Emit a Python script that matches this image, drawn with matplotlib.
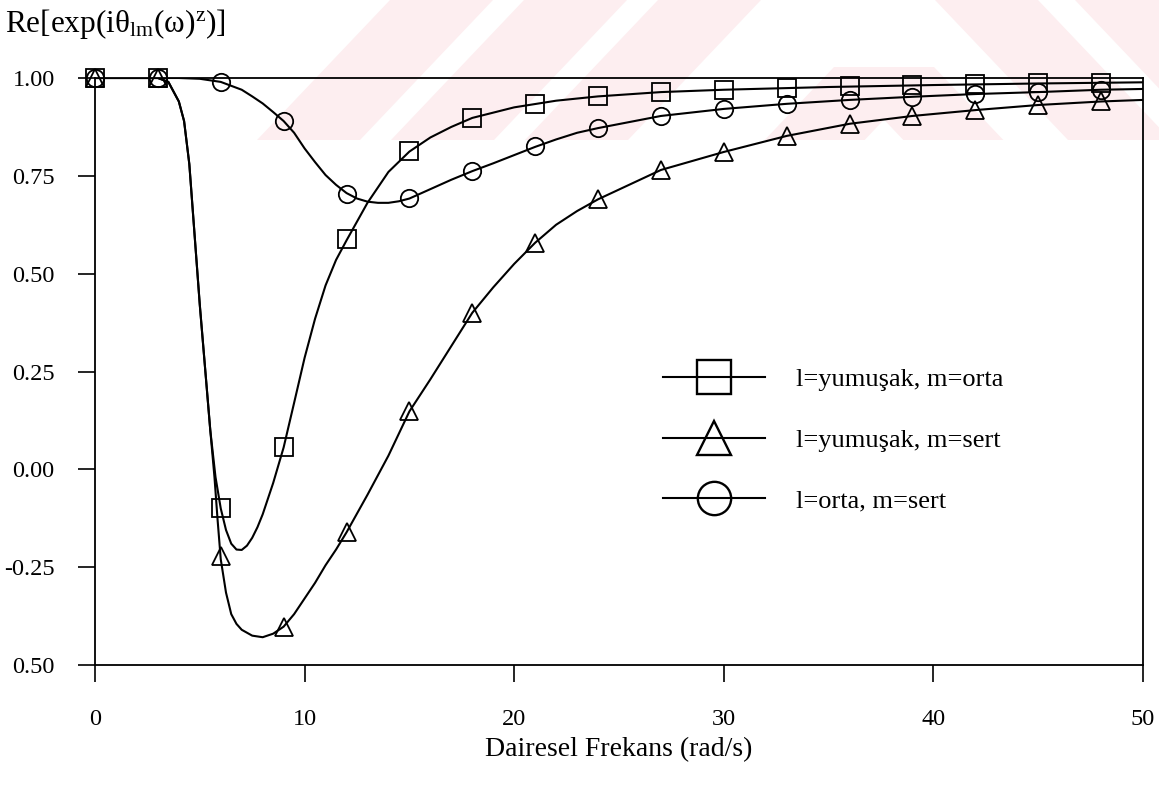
import matplotlib
matplotlib.use("Agg")
import matplotlib.pyplot as plt
from matplotlib.patches import Polygon
from matplotlib.ticker import FixedLocator, FixedFormatter

# --- marker data (every 3 rad/s) -------------------------------------------
freq_markers = [0, 3, 6, 9, 12, 15, 18, 21, 24, 27, 30, 33, 36, 39, 42, 45, 48]
soft_mid = [1.0, 1.0, -0.10, 0.056, 0.589, 0.814, 0.898, 0.934, 0.953, 0.964,
            0.970, 0.975, 0.979, 0.982, 0.984, 0.986, 0.988]
soft_hard = [1.0, 1.0, -0.222, -0.403, -0.161, 0.148, 0.400, 0.579, 0.690,
             0.765, 0.811, 0.852, 0.883, 0.903, 0.918, 0.931, 0.940]
mid_hard = [1.0, 1.0, 0.990, 0.890, 0.704, 0.694, 0.763, 0.826, 0.872, 0.903,
            0.921, 0.934, 0.944, 0.952, 0.959, 0.964, 0.970]

# --- continuous curves ------------------------------------------------------
soft_mid_x = [0, 3, 3.5, 4.0, 4.25, 4.5, 4.75, 5.0, 5.25, 5.5, 5.75, 6.0, 6.25,
              6.5, 6.75, 7.0, 7.25, 7.5, 7.75, 8.0, 8.5, 9.0, 9.5, 10.0, 10.5,
              11.0, 11.5, 12.0, 13.0, 14.0, 15.0, 16.0, 17.0, 18.0, 20.0, 22.0,
              24.0, 27.0, 30.0, 35.0, 40.0, 45.0, 50.0]
soft_mid_y = [1.0, 1.0, 0.99, 0.94, 0.89, 0.78, 0.60, 0.42, 0.26, 0.10, -0.02,
              -0.10, -0.155, -0.19, -0.205, -0.206, -0.195, -0.175, -0.148,
              -0.115, -0.035, 0.056, 0.17, 0.285, 0.385, 0.47, 0.535, 0.585,
              0.681, 0.76, 0.812, 0.848, 0.875, 0.898, 0.925, 0.942, 0.953,
              0.964, 0.970, 0.977, 0.982, 0.986, 0.989]

soft_hard_x = [0, 3, 3.5, 4.0, 4.25, 4.5, 4.75, 5.0, 5.25, 5.5, 5.7, 5.85, 6.0,
               6.25, 6.5, 6.75, 7.0, 7.5, 8.0, 8.5, 9.0, 9.5, 10.0, 10.5, 11.0,
               11.5, 12.0, 13.0, 14.0, 15.0, 16.0, 17.0, 18.0, 19.0, 20.0,
               21.0, 22.0, 23.0, 24.0, 27.0, 30.0, 33.0, 36.0, 39.0, 42.0,
               45.0, 48.0, 50.0]
soft_hard_y = [1.0, 1.0, 0.99, 0.94, 0.89, 0.78, 0.60, 0.42, 0.26, 0.10, -0.02,
               -0.13, -0.23, -0.315, -0.37, -0.395, -0.41, -0.425, -0.429,
               -0.42, -0.402, -0.37, -0.33, -0.29, -0.245, -0.205, -0.161,
               -0.065, 0.035, 0.148, 0.23, 0.315, 0.400, 0.465, 0.525, 0.579,
               0.625, 0.66, 0.690, 0.765, 0.811, 0.852, 0.883, 0.903, 0.918,
               0.931, 0.940, 0.944]

mid_hard_x = [0, 3, 4, 5, 6, 7, 7.5, 8, 8.5, 9, 9.5, 10, 10.5, 11, 11.5, 12,
              12.5, 13, 13.5, 14, 14.5, 15, 16, 17, 18, 19, 20, 21, 22, 23, 24,
              27, 30, 33, 36, 39, 42, 45, 48, 50]
mid_hard_y = [1.0, 1.0, 1.0, 0.998, 0.99, 0.97, 0.953, 0.935, 0.913, 0.89,
              0.86, 0.82, 0.785, 0.752, 0.727, 0.706, 0.692, 0.684, 0.681,
              0.681, 0.685, 0.692, 0.716, 0.74, 0.762, 0.782, 0.803, 0.824,
              0.843, 0.86, 0.872, 0.903, 0.921, 0.934, 0.944, 0.952, 0.959,
              0.964, 0.970, 0.972]

series_labels = ["l=yumuşak, m=orta", "l=yumuşak, m=sert", "l=orta, m=sert"]
x_ticks = [0, 10, 20, 30, 40, 50]
y_ticks = [1.0, 0.75, 0.5, 0.25, 0.0, -0.25, -0.5]
y_tick_labels = ["1.00", "0.75", "0.50", "0.25", "0.00", "-0.25", "0.50"]

plt.rcParams["font.family"] = ["Liberation Serif", "DejaVu Serif"]
plt.rcParams["mathtext.fontset"] = "custom"
plt.rcParams["mathtext.rm"] = "Liberation Serif"
plt.rcParams["mathtext.it"] = "Liberation Serif:italic"

W, H = 1159, 785
fig = plt.figure(figsize=(W / 100, H / 100), dpi=100)
fig.patch.set_facecolor("white")


def add_band(pts):
    fig.patches.append(Polygon([(px / W, 1 - py / H) for px, py in pts],
                               closed=True, transform=fig.transFigure,
                               facecolor="#fdeef0", edgecolor="none",
                               zorder=-5))


# faint background emblem stripes across the top band
band = 140
slope = 0.95
for left in (390, 524, 658):
    add_band([(left, 0), (left + 103, 0), (left + 103 - slope * band, band),
              (left - slope * band, band)])
apex_x, apex_y = 884, 72
for sgn in (-1, 1):
    add_band([(apex_x - sgn * 50, apex_y - 5), (apex_x + sgn * 50, apex_y - 5),
              (apex_x + sgn * (50 + slope * (band - apex_y + 5)), band),
              (apex_x + sgn * (-50 + slope * (band - apex_y + 5)), band)])
for left in (935, 1075):
    add_band([(left, 0), (left + 103, 0), (left + 103 + slope * band, band),
              (left + slope * band, band)])

ax = fig.add_axes([95 / W, 1 - 665 / H, (1143 - 95) / W, (665 - 78) / H])
ax.patch.set_alpha(0)

line_kw = dict(color="black", lw=1.5, solid_capstyle="round")
mk_kw = dict(color="black", ls="none", mfc="none", mew=1.3, ms=12.5,
             clip_on=False)

ax.plot(soft_mid_x, soft_mid_y, **line_kw)
ax.plot(soft_hard_x, soft_hard_y, **line_kw)
ax.plot(mid_hard_x, mid_hard_y, **line_kw)
ax.plot(freq_markers, soft_mid, marker="s", **mk_kw)
ax.plot(freq_markers, soft_hard, marker="^", **mk_kw)
ax.plot(freq_markers, mid_hard, marker="o", **mk_kw)

# legend proxies: line with centred marker
handles = []
for m in ("s", "^", "o"):
    h, = ax.plot([], [], color="black", lw=1.5, marker=m, mfc="none",
                 mew=1.7, ms=24)
    handles.append(h)
ax.legend(handles, series_labels, loc="upper left",
          bbox_to_anchor=(0.542, 0.506), frameon=False, fontsize=19,
          handlelength=3.85, handletextpad=1.2, labelspacing=1.4,
          borderpad=0, borderaxespad=0)

ax.set_xlim(0, 50)
ax.set_ylim(-0.5, 1.0)
ax.xaxis.set_major_locator(FixedLocator(x_ticks))
ax.yaxis.set_major_locator(FixedLocator(y_ticks))
ax.yaxis.set_major_formatter(FixedFormatter(y_tick_labels))
ax.tick_params(axis="both", direction="out", length=12, width=1.2,
               labelsize=17.5, top=False, right=False)
ax.tick_params(axis="x", pad=20)
ax.tick_params(axis="y", pad=17)
for sp in ax.spines.values():
    sp.set_linewidth(1.3)

ax.set_xlabel("Dairesel Frekans (rad/s)", fontsize=20, labelpad=4.5)
fig.text(5 / W, 1 - 24 / H, r"$\mathrm{Re[exp(i\theta_{lm}(\omega)^{z})]}$",
         fontsize=22.5, ha="left", va="center")

fig.savefig("out.png", dpi=100)
